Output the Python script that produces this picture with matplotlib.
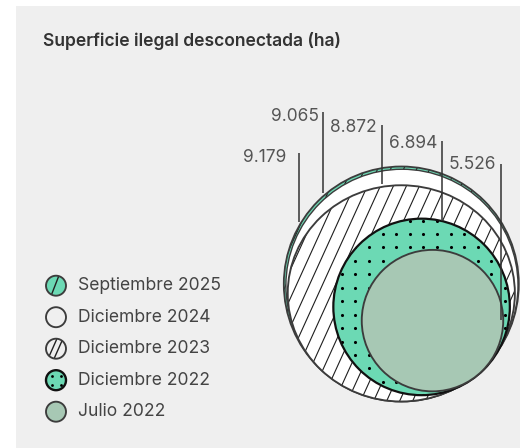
import numpy as np
import matplotlib
matplotlib.use('Agg')
import matplotlib.pyplot as plt
from matplotlib.patches import Circle, Ellipse, Rectangle
from matplotlib.collections import LineCollection

# ---------------- data ----------------
series = ['Septiembre 2025', 'Diciembre 2024', 'Diciembre 2023', 'Diciembre 2022', 'Julio 2022']
values = [9179, 9065, 8872, 6894, 5526]
title = 'Superficie ilegal desconectada (ha)'


def fmt(v):
    return f'{v:,}'.replace(',', '.')


# ---------------- layout / style ----------------
W, H = 523, 448
FONT = ['Inter', 'DejaVu Sans']
TEAL = '#6cd9b4'
SAGE = '#a7c8b4'
EDGE = '#3c3c3c'
BG = '#efefef'

fig = plt.figure(figsize=(W / 100, H / 100), dpi=100)
fig.patch.set_facecolor('white')
ax = fig.add_axes([0, 0, 1, 1])
ax.set_xlim(0, W)
ax.set_ylim(H, 0)
ax.axis('off')
ax.add_patch(Rectangle((16, 6), 504, 442, facecolor=BG, edgecolor='none', zorder=0))

ax.text(43, 41, title, fontsize=12.6, fontweight='semibold', color='#333333',
        family=FONT, va='center', ha='left')

# circle geometry: radius proportional to value
R_MAX = 117.5
scale = R_MAX / values[0]
radii = [v * scale for v in values]
B = np.array([401.3, 401.5])           # common tangent point (outer group)
dout = np.array([0.45, 0.89])
dout = dout / np.linalg.norm(dout)
T = np.array([476.5, 376.0])           # common tangent point (inner group)
dvec = np.array([0.62, 0.78])
dvec = dvec / np.linalg.norm(dvec)
squash = [1.0, 1.0, 0.952, 1.0, 1.0]


def center(i):
    r = radii[i]
    if i == 0:
        return (B[0], B[1] - r)
    if i == 1:
        c0 = np.array([B[0], B[1] - radii[0]])
        tp = c0 + radii[0] * dout
        c = tp - r * dout
        return (c[0], c[1])
    if i == 2:
        return (B[0], B[1] - r * squash[i])
    c = T - r * dvec
    return (c[0], c[1])


def add_hatch(patch, bbox, spacing=13.0, slope=2.2, phase=0.0, lw=0.8, z=3, color='#1e1e1e'):
    x0, x1, y0, y1 = bbox
    span = (y1 - y0) / slope
    segs = []
    c = x0 - span + phase
    while c < x1:
        segs.append([(c, y1), (c + span, y0)])
        c += spacing
    lc = LineCollection(segs, colors=color, linewidths=lw, zorder=z)
    ax.add_collection(lc)
    lc.set_clip_path(patch)
    return lc


LW = 1.35

# 0: Septiembre 2025 (teal + hatch)
cx, cy = center(0)
p0 = Circle((cx, cy), radii[0], facecolor=TEAL, edgecolor='none', zorder=1)
ax.add_patch(p0)
add_hatch(p0, (cx - radii[0], cx + radii[0], cy - radii[0], cy + radii[0]), phase=4, z=1.5)
ax.add_patch(Circle((cx, cy), radii[0], facecolor='none', edgecolor=EDGE, lw=1.3, zorder=1.8))

# 1: Diciembre 2024 (white)
cx, cy = center(1)
ax.add_patch(Circle((cx, cy), radii[1], facecolor='white', edgecolor=EDGE, lw=1.0, zorder=2))

# 2: Diciembre 2023 (white + hatch)
cx, cy = center(2)
rw, rh = radii[2], radii[2] * squash[2]
p2 = Ellipse((cx, cy), 2 * rw, 2 * rh, facecolor='white', edgecolor='none', zorder=2.5)
ax.add_patch(p2)
add_hatch(p2, (cx - rw, cx + rw, cy - rh, cy + rh), phase=2, z=2.7)
ax.add_patch(Ellipse((cx, cy), 2 * rw, 2 * rh, facecolor='none', edgecolor=EDGE, lw=LW, zorder=2.9))

# 3: Diciembre 2022 (teal + dots)
cx, cy = center(3)
p3 = Circle((cx, cy), radii[3], facecolor=TEAL, edgecolor='none', zorder=3)
ax.add_patch(p3)
gx = 341.7 + 13.6 * np.arange(-2, 14)
gy = 234.0 + 13.45 * np.arange(-2, 14)
GX, GY = np.meshgrid(gx, gy)
sc = ax.scatter(GX.ravel(), GY.ravel(), s=5.0, color='black', linewidths=0, zorder=3.2)
sc.set_clip_path(p3)
ax.add_patch(Circle((cx, cy), radii[3], facecolor='none', edgecolor='#111111', lw=1.6, zorder=3.4))

# 4: Julio 2022 (sage)
cx, cy = center(4)
ax.add_patch(Circle((cx, cy), radii[4], facecolor=SAGE, edgecolor=EDGE, lw=LW, zorder=4))

# value labels with leader lines (line_x, line_top, line_bottom, text_right, text_y)
label_layout = [
    (299.0, 153.5, 222.0, 286.5, 158.0),
    (323.3, 112.5, 193.0, 318.5, 116.5),
    (382.0, 125.0, 184.5, 377.0, 127.5),
    (441.7, 141.5, 221.0, 437.0, 144.0),
    (500.7, 164.0, 320.0, 496.5, 164.5),
]
for v, (lx, lt, lb, tr, ty) in zip(values, label_layout):
    ax.plot([lx, lx], [lt, lb], color='#333333', lw=1.1, zorder=6, solid_capstyle='butt')
    ax.text(tr, ty, fmt(v), fontsize=12.5, color='#555555', family=FONT,
            ha='right', va='center', zorder=6)

# legend
leg_x, leg_y0, leg_dy, leg_r = 56.0, 285.7, 31.5, 10.0
for i, name in enumerate(series):
    y = leg_y0 + i * leg_dy
    if i == 0:
        m = Circle((leg_x, y), leg_r, facecolor=TEAL, edgecolor='none', zorder=5)
        ax.add_patch(m)
        ln, = ax.plot([leg_x - 4.5, leg_x + 2.5], [y + 9, y - 9], color='#222222', lw=1.0, zorder=5.2)
        ln.set_clip_path(m)
        ax.add_patch(Circle((leg_x, y), leg_r, facecolor='none', edgecolor=EDGE, lw=LW, zorder=5.4))
    elif i == 1:
        ax.add_patch(Circle((leg_x, y), leg_r, facecolor=BG, edgecolor=EDGE, lw=LW, zorder=5))
    elif i == 2:
        m = Circle((leg_x, y), leg_r, facecolor=BG, edgecolor='none', zorder=5)
        ax.add_patch(m)
        for off in (-3.5, 2.5):
            ln, = ax.plot([leg_x + off - 4, leg_x + off + 4], [y + 9, y - 9], color='#222222', lw=1.0, zorder=5.2)
            ln.set_clip_path(m)
        ax.add_patch(Circle((leg_x, y), leg_r, facecolor='none', edgecolor=EDGE, lw=LW, zorder=5.4))
    elif i == 3:
        ax.add_patch(Circle((leg_x, y), leg_r, facecolor=TEAL, edgecolor='#111111', lw=1.7, zorder=5))
        ax.scatter([leg_x - 4.5, leg_x + 4.5, leg_x - 4.5, leg_x + 4.5],
                   [y - 4.5, y - 4.5, y + 4.5, y + 4.5], s=4.0, color='black', linewidths=0, zorder=5.2)
    else:
        ax.add_patch(Circle((leg_x, y), leg_r, facecolor=SAGE, edgecolor=EDGE, lw=LW, zorder=5))
    ax.text(78.5, y, name, fontsize=12.6, color='#444444', family=FONT, ha='left', va='center')

fig.savefig('out.png', dpi=100, facecolor='white')
